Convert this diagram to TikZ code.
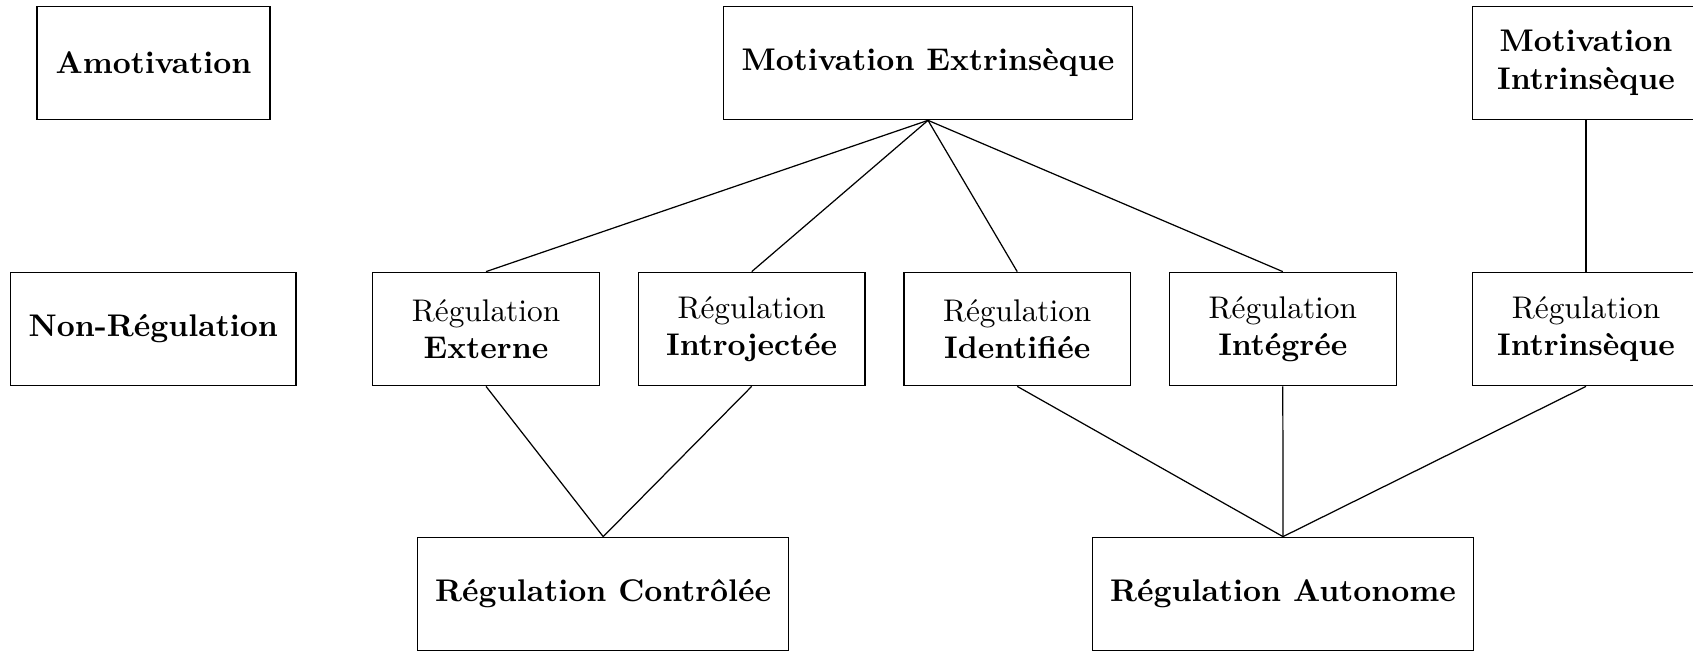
\documentclass[tikz,border=0pt]{standalone}
\begin{document}
\begin{tikzpicture}[x=0.325pt,y=-0.325pt,
  box/.style={draw, line width=0.4pt, inner sep=0pt, minimum height=113.5*0.325pt, align=center, font=\fontsize{10.18}{12.2}\selectfont},
  regbox/.style={box, minimum width=226.6*0.325pt},
  link/.style={line width=0.4pt}]
\useasboundingbox (0,0) rectangle (1693,651);
\node[box, minimum width=233*0.325pt] (amot) at (153.5,63) {\bfseries Amotivation};
\node[box, minimum width=285.3*0.325pt] (nonreg) at (153.3,329) {\bfseries Non-Régulation};
\node[box, minimum width=409.4*0.325pt] (motext) at (928,63) {\bfseries Motivation Extrinsèque};
\node[regbox] (motint) at (1586,63) {\bfseries Motivation\\\bfseries Intrinsèque};
\node[regbox] (regext) at (486,329) {Régulation\\\bfseries Externe};
\node[regbox] (regintro) at (751.7,329) {Régulation\\\bfseries Introjectée};
\node[regbox] (regid) at (1017.2,329) {Régulation\\\bfseries Identifiée};
\node[regbox] (regintg) at (1282.8,329) {Régulation\\\bfseries Intégrée};
\node[regbox] (regintr) at (1586,329) {Régulation\\\bfseries Intrinsèque};
\node[box, minimum width=371*0.325pt] (regctrl) at (603.2,594) {\bfseries Régulation Contrôlée};
\node[box, minimum width=381.4*0.325pt] (regauto) at (1283,594) {\bfseries Régulation Autonome};
\draw[link] (motext.south) -- (regext.north);
\draw[link] (motext.south) -- (regintro.north);
\draw[link] (motext.south) -- (regid.north);
\draw[link] (motext.south) -- (regintg.north);
\draw[link] (motint.south) -- (regintr.north);
\draw[link] (regext.south) -- (regctrl.north);
\draw[link] (regintro.south) -- (regctrl.north);
\draw[link] (regid.south) -- (regauto.north);
\draw[link] (regintg.south) -- (regauto.north);
\draw[link] (regintr.south) -- (regauto.north);
\end{tikzpicture}
\end{document}
